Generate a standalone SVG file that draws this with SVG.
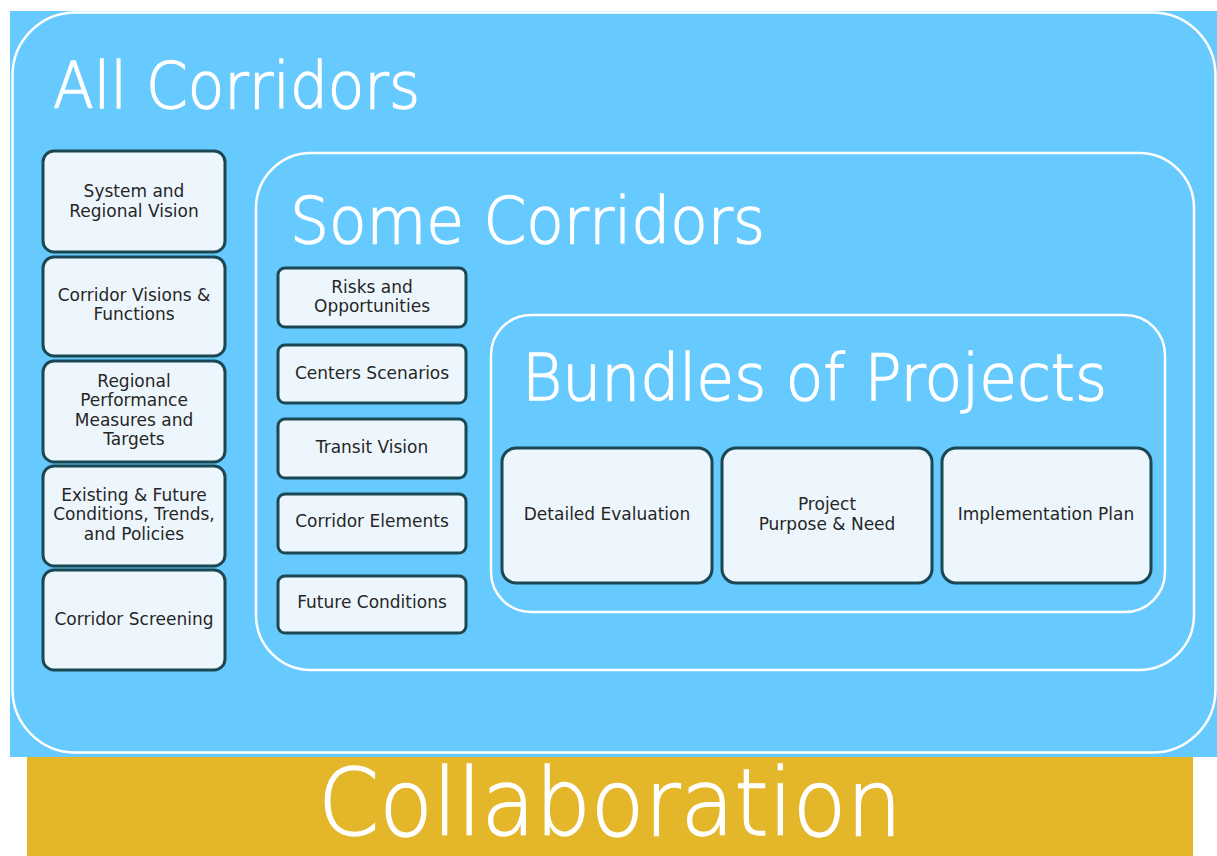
<svg xmlns="http://www.w3.org/2000/svg" width="1217" height="856" viewBox="0 0 1217 856">
<style>
.frame{fill:none;stroke:#ffffff;stroke-width:2.5}
.box{fill:#eef6fd;stroke:#1b4753;stroke-width:3}
.lbl{font-family:"DejaVu Sans","Liberation Sans",sans-serif;font-size:17px;fill:#262626;text-anchor:middle}
.hdr{font-family:"DejaVu Sans","Liberation Sans",sans-serif;font-weight:200;fill:#ffffff;stroke:#ffffff;stroke-width:1.3}
</style>
<rect x="0" y="0" width="1217" height="856" fill="#ffffff"/>
<rect x="10" y="11" width="1207" height="746" fill="#66caff"/>
<rect x="27" y="757" width="1166" height="99" fill="#e4b62a"/>
<g id="all-corridors">
<rect class="frame" x="12.5" y="12.5" width="1203" height="740" rx="63"/>
<text class="hdr" x="53" y="108" font-size="64" textLength="367" lengthAdjust="spacingAndGlyphs">All Corridors</text>
</g>
<g id="some-corridors">
<rect class="frame" x="256" y="153" width="938" height="517" rx="55"/>
<text class="hdr" x="290" y="243" font-size="64" textLength="475" lengthAdjust="spacingAndGlyphs">Some Corridors</text>
</g>
<g id="bundles">
<rect class="frame" x="491" y="315" width="674" height="297" rx="40"/>
<text class="hdr" x="522" y="400" font-size="64" textLength="585" lengthAdjust="spacingAndGlyphs">Bundles of Projects</text>
</g>
<g id="collaboration">
<text class="hdr" x="318" y="835" font-size="93" textLength="584" lengthAdjust="spacingAndGlyphs">Collaboration</text>
</g>
<g id="n-system">
<rect class="box" x="43" y="151" width="182" height="101" rx="11"/>
<text class="lbl" x="134" y="197">System and</text>
<text class="lbl" x="134" y="217">Regional Vision</text>
</g>
<g id="n-visions">
<rect class="box" x="43" y="257" width="182" height="99" rx="11"/>
<text class="lbl" x="134" y="301">Corridor Visions &amp;</text>
<text class="lbl" x="134" y="320">Functions</text>
</g>
<g id="n-performance">
<rect class="box" x="43" y="361" width="182" height="101" rx="11"/>
<text class="lbl" x="134" y="387">Regional</text>
<text class="lbl" x="134" y="406">Performance</text>
<text class="lbl" x="134" y="426">Measures and</text>
<text class="lbl" x="134" y="445">Targets</text>
</g>
<g id="n-existing">
<rect class="box" x="43" y="466" width="182" height="100" rx="11"/>
<text class="lbl" x="134" y="501">Existing &amp; Future</text>
<text class="lbl" x="134" y="520">Conditions, Trends,</text>
<text class="lbl" x="134" y="540">and Policies</text>
</g>
<g id="n-screening">
<rect class="box" x="43" y="570" width="182" height="100" rx="11"/>
<text class="lbl" x="134" y="625">Corridor Screening</text>
</g>
<g id="n-risks">
<rect class="box" x="278" y="268" width="188" height="59" rx="7"/>
<text class="lbl" x="372" y="293">Risks and</text>
<text class="lbl" x="372" y="312">Opportunities</text>
</g>
<g id="n-centers">
<rect class="box" x="278" y="345" width="188" height="58" rx="7"/>
<text class="lbl" x="372" y="379">Centers Scenarios</text>
</g>
<g id="n-transit">
<rect class="box" x="278" y="419" width="188" height="59" rx="7"/>
<text class="lbl" x="372" y="453">Transit Vision</text>
</g>
<g id="n-elements">
<rect class="box" x="278" y="494" width="188" height="59" rx="7"/>
<text class="lbl" x="372" y="527">Corridor Elements</text>
</g>
<g id="n-future">
<rect class="box" x="278" y="576" width="188" height="57" rx="7"/>
<text class="lbl" x="372" y="608">Future Conditions</text>
</g>
<g id="n-detailed">
<rect class="box" x="502" y="448" width="210" height="135" rx="14"/>
<text class="lbl" x="607" y="520">Detailed Evaluation</text>
</g>
<g id="n-purpose">
<rect class="box" x="722" y="448" width="210" height="135" rx="14"/>
<text class="lbl" x="827" y="510">Project</text>
<text class="lbl" x="827" y="530">Purpose &amp; Need</text>
</g>
<g id="n-implementation">
<rect class="box" x="942" y="448" width="209" height="135" rx="14"/>
<text class="lbl" x="1046" y="520">Implementation Plan</text>
</g>
<g id="connectors"></g>
</svg>
